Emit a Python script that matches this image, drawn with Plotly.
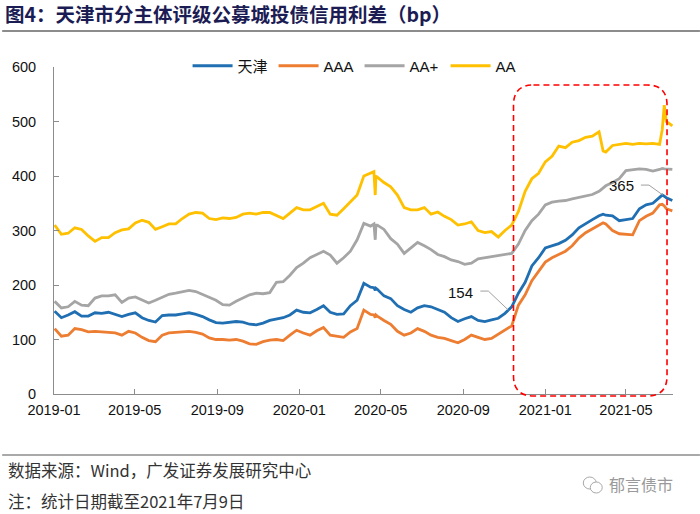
import plotly.graph_objects as go

# ---------------- data ----------------
dates = [
    "2019-01-02", "2019-01-12", "2019-01-22", "2019-02-01", "2019-02-11", "2019-02-21",
    "2019-03-03", "2019-03-13", "2019-03-23", "2019-04-02", "2019-04-12", "2019-04-22",
    "2019-05-02", "2019-05-12", "2019-05-22", "2019-06-01", "2019-06-11", "2019-06-21",
    "2019-07-01", "2019-07-11", "2019-07-21", "2019-07-31", "2019-08-10", "2019-08-20",
    "2019-08-30", "2019-09-09", "2019-09-19", "2019-09-29", "2019-10-09", "2019-10-19",
    "2019-10-29", "2019-11-08", "2019-11-18", "2019-11-28", "2019-12-08", "2019-12-18",
    "2019-12-28", "2020-01-07", "2020-01-17", "2020-01-27", "2020-02-06", "2020-02-16",
    "2020-02-26", "2020-03-07", "2020-03-17", "2020-03-27", "2020-04-06", "2020-04-16",
    "2020-04-21", "2020-04-23", "2020-04-24",
    "2020-04-26", "2020-05-06", "2020-05-16", "2020-05-26", "2020-06-05", "2020-06-15",
    "2020-06-25", "2020-07-05", "2020-07-15", "2020-07-25", "2020-08-04", "2020-08-14",
    "2020-08-24", "2020-09-03", "2020-09-13", "2020-09-23", "2020-10-03", "2020-10-13",
    "2020-10-23", "2020-11-02", "2020-11-12", "2020-11-22", "2020-12-02", "2020-12-12",
    "2020-12-22", "2021-01-01", "2021-01-11", "2021-01-21", "2021-01-31", "2021-02-10",
    "2021-02-20", "2021-03-02", "2021-03-12", "2021-03-22", "2021-03-28", "2021-04-01",
    "2021-04-11", "2021-04-21", "2021-05-01", "2021-05-11", "2021-05-21", "2021-05-31",
    "2021-06-10", "2021-06-20", "2021-06-24", "2021-06-27", "2021-06-30", "2021-07-09",
]

tianjin = [
    152, 140, 145, 151, 143, 143, 149, 148, 150, 146, 142, 146,
    149, 140, 135, 132, 144, 145, 145, 147, 149, 146, 142, 136,
    131, 130, 132, 133, 132, 128, 127, 130, 135, 138, 140, 145,
    154, 150, 149, 155, 162, 150, 146, 147, 162, 172, 203, 196,
    195, 190, 194,
    192, 180, 175, 162, 155, 150, 158, 162, 160, 155, 150, 140,
    133, 138, 142, 135, 133, 136, 139, 148, 160, 185, 205, 235,
    250, 268, 272, 276, 282, 292, 305, 313, 320, 327, 330, 328,
    327, 318, 320, 322, 340, 347, 350, 362, 365, 363, 360, 355,
]

aaa = [
    120, 106, 108, 120, 118, 114, 115, 114, 113, 112, 108, 115,
    112, 104, 98, 96, 108, 112, 113, 114, 115, 113, 110, 103,
    100, 100, 99, 100, 97, 92, 91, 96, 99, 100, 98, 108,
    117, 112, 108, 116, 122, 108, 106, 104, 114, 120, 154, 146,
    145, 140, 145,
    143, 135, 128, 115, 108, 112, 120, 115, 108, 104, 102, 98,
    94, 100, 108, 104, 100, 102, 110, 118, 125, 163, 182, 208,
    225, 242, 250, 256, 262, 272, 286, 296, 303, 310, 314, 312,
    300, 294, 293, 292, 318, 326, 332, 347, 348, 345, 340, 336,
]

aa_plus = [
    170, 158, 160, 170, 163, 162, 176, 180, 180, 182, 168, 176,
    178, 172, 167, 172, 178, 183, 185, 187, 190, 188, 183, 178,
    172, 164, 163, 170, 176, 182, 185, 184, 186, 205, 206, 218,
    232, 240, 250, 256, 262, 255, 240, 250, 262, 283, 313, 308,
    312, 283, 310,
    310, 302, 285, 275, 258, 268, 278, 272, 265, 256, 252, 246,
    243, 238, 240, 248, 250, 252, 253, 255, 258, 275, 300, 318,
    330, 347, 352, 354, 355, 358, 361, 363, 366, 372, 378, 382,
    388, 395, 410, 412, 413, 412, 409, 412, 414, 413, 413, 412,
]

aa = [
    310, 293, 295, 305, 302, 290, 280, 287, 287, 296, 301, 303,
    314, 319, 315, 302, 307, 312, 312, 322, 330, 333, 332, 322,
    320, 323, 322, 324, 330, 332, 330, 333, 333, 327, 322, 332,
    342, 338, 338, 344, 350, 330, 328, 340, 352, 365, 400, 405,
    408, 365, 400,
    398, 388, 380, 365, 342, 338, 338, 342, 330, 334, 326, 320,
    310, 312, 316, 300, 296, 298, 288, 300, 310, 335, 372, 395,
    405, 426, 436, 455, 452, 462, 465, 471, 473, 481, 446, 444,
    456, 458, 460, 458, 460, 459, 460, 458, 485, 530, 500, 492,
]

series_names = ["天津", "AAA", "AA+", "AA"]
series_values = [tianjin, aaa, aa_plus, aa]
series_colors = ["#1F6FB2", "#ED7D31", "#A5A5A5", "#FFC000"]

tick_vals = ["2019-01-01", "2019-05-01", "2019-09-01", "2020-01-01",
             "2020-05-01", "2020-09-01", "2021-01-01", "2021-05-01"]
tick_text = ["2019-01", "2019-05", "2019-09", "2020-01",
             "2020-05", "2020-09", "2021-01", "2021-05"]

label_points = [("2020-11-07", 154, "154"), ("2021-06-25", 365, "365")]

title_text = "图4：天津市分主体评级公募城投债信用利差（bp）"
source_text = "数据来源：Wind，广发证券发展研究中心"
note_text = "注：统计日期截至2021年7月9日"
watermark_text = "郁言债市"

# ---------------- layout helpers ----------------
W, H = 700, 514
L, R, T, B = 52, 673, 67, 394
PW, PH = R - L, B - T


def px(xp):
    return (xp - L) / PW


def py(yp):
    return (B - yp) / PH


FONT = "Liberation Sans, Arial, Noto Sans CJK SC, sans-serif"
CJK = "Noto Sans CJK SC, Liberation Sans, sans-serif"

fig = go.Figure()
for name, vals, col in zip(series_names, series_values, series_colors):
    fig.add_trace(go.Scatter(x=dates, y=vals, mode="lines", name=name,
                             line=dict(color=col, width=2.8)))

shapes = []
annotations = []

# red dashed rounded rectangle
x0, x1 = px(513), px(667)
y0, y1 = py(396), py(85)
rx, ry = 20 / PW, 20 / PH
path = (f"M {x0+rx},{y1} L {x1-rx},{y1} Q {x1},{y1} {x1},{y1-ry} "
        f"L {x1},{y0+ry} Q {x1},{y0} {x1-rx},{y0} L {x0+rx},{y0} "
        f"Q {x0},{y0} {x0},{y0+ry} L {x0},{y1-ry} Q {x0},{y1} {x0+rx},{y1} Z")
shapes.append(dict(type="path", xref="paper", yref="paper", path=path,
                   line=dict(color="#FF0000", width=1.6, dash="6px,4px")))

# leader lines + labels
leader = [(-28, 19), (-20, 19)]
leader2 = [(-22, 10), (-14, 10)]
for (d, v, t), ld, shift in zip(label_points, [leader, leader2], [(-48, 18), (-41, 10)]):
    p = f"M {ld[0][0]} {ld[0][1]} L {ld[1][0]} {ld[1][1]} L 0 0"
    shapes.append(dict(type="path", xref="x", yref="y", xsizemode="pixel",
                       ysizemode="pixel", xanchor=d, yanchor=v, path=p,
                       line=dict(color="#A0A0A0", width=1)))
    annotations.append(dict(x=d, y=v, xref="x", yref="y", text=t, showarrow=False,
                            xshift=shift[0], yshift=shift[1],
                            font=dict(family=FONT, size=15, color="#111111")))

# title underline and footer line
shapes.append(dict(type="line", xref="paper", yref="paper", x0=px(0), x1=px(700),
                   y0=py(31), y1=py(31), line=dict(color="#8C8C8C", width=2)))
shapes.append(dict(type="line", xref="paper", yref="paper", x0=px(0), x1=px(700),
                   y0=py(455), y1=py(455), line=dict(color="#8C8C8C", width=1.5)))

# footer texts
annotations.append(dict(x=px(4), y=py(470), xref="paper", yref="paper", text=source_text,
                        showarrow=False, xanchor="left", yanchor="middle",
                        font=dict(family=CJK, size=16.5, color="#333333")))
annotations.append(dict(x=px(4), y=py(501), xref="paper", yref="paper", text=note_text,
                        showarrow=False, xanchor="left", yanchor="middle",
                        font=dict(family=CJK, size=16.5, color="#333333")))
annotations.append(dict(x=px(607), y=py(484), xref="paper", yref="paper", text=watermark_text,
                        showarrow=False, xanchor="left", yanchor="middle",
                        font=dict(family=CJK, size=16, color="#9A9A9A")))
# wechat-like icon
shapes.append(dict(type="circle", xref="paper", yref="paper", x0=px(583), x1=px(596),
                   y0=py(489), y1=py(477), line=dict(color="#A8A8A8", width=1)))
shapes.append(dict(type="circle", xref="paper", yref="paper", x0=px(590), x1=px(602),
                   y0=py(493), y1=py(482), line=dict(color="#A8A8A8", width=1),
                   fillcolor="white"))

fig.update_layout(
    width=W, height=H,
    margin=dict(l=L, r=W - R, t=T, b=H - B, pad=0),
    paper_bgcolor="white", plot_bgcolor="white",
    font=dict(family=FONT, size=14.5, color="#111111"),
    title=dict(text="<b>" + title_text + "</b>", x=5 / W, xanchor="left",
               y=1 - 15 / H, yanchor="middle",
               font=dict(family=CJK, size=19.5, color="#1C1C54")),
    showlegend=True,
    legend=dict(orientation="h", x=px(186), xanchor="left", y=py(66), yanchor="middle",
                font=dict(family=FONT, size=15, color="#111111"),
                bgcolor="rgba(0,0,0,0)", itemwidth=40,
                entrywidth=31, entrywidthmode="pixels", tracegroupgap=0),
    shapes=shapes,
    annotations=annotations,
)

fig.update_xaxes(type="date", range=["2019-01-01", "2021-07-10"],
                 tickvals=tick_vals, ticktext=tick_text,
                 showgrid=False, zeroline=False,
                 showline=True, linecolor="#8C8C8C", linewidth=1,
                 ticks="inside", ticklen=5, tickcolor="#8C8C8C",
                 ticklabelstandoff=3,
                 tickfont=dict(family=FONT, size=14.5, color="#111111"))
fig.update_yaxes(range=[0, 600], dtick=100, tick0=0,
                 showgrid=False, zeroline=False,
                 showline=True, linecolor="#8C8C8C", linewidth=1,
                 ticks="inside", ticklen=5, tickcolor="#8C8C8C",
                 ticklabelstandoff=14,
                 tickfont=dict(family=FONT, size=14.5, color="#111111"))

fig.write_html("out.html", config={"displayModeBar": False},
               post_script="document.body.style.margin='0';")
